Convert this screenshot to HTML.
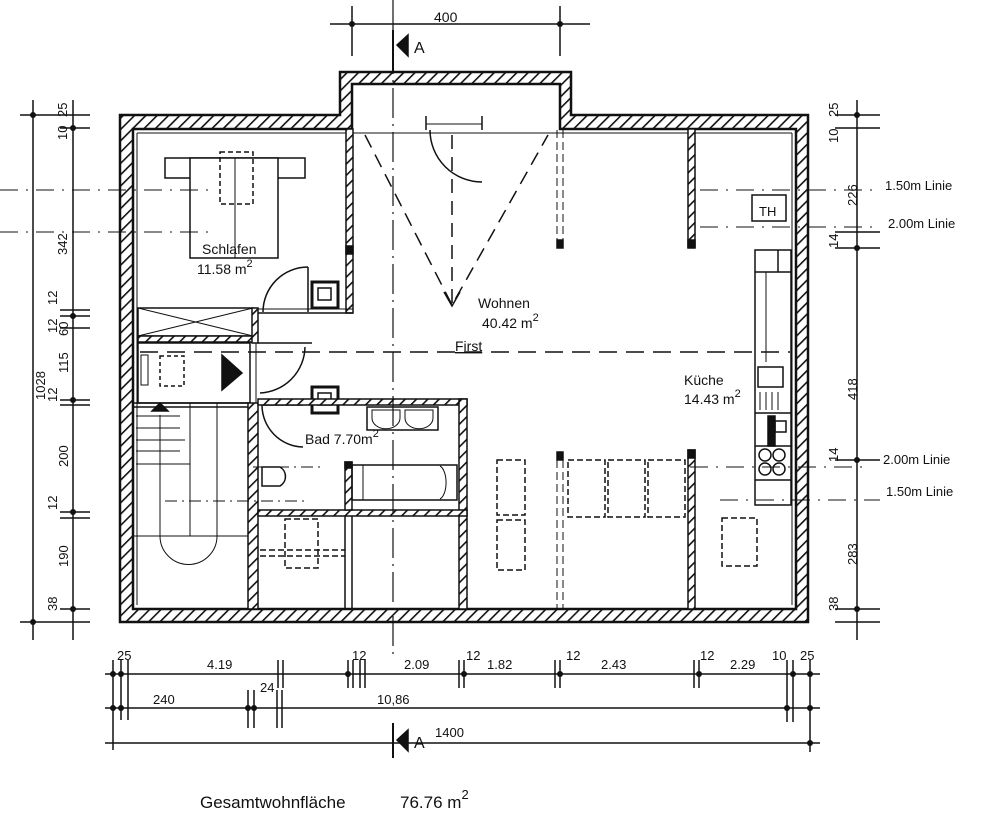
<!DOCTYPE html>
<html><head><meta charset="utf-8"><style>
html,body{margin:0;padding:0;background:#fff;}
svg{display:block;}
text{font-family:"Liberation Sans",sans-serif;fill:#111;}
</style></head><body>
<svg width="1000" height="832" viewBox="0 0 1000 832" xmlns="http://www.w3.org/2000/svg">
<defs>
<pattern id="h" width="8" height="8" patternUnits="userSpaceOnUse" patternTransform="rotate(45)">
<rect width="8" height="8" fill="#fff"/><rect x="0" y="0" width="1.6" height="8" fill="#111"/>
</pattern>
</defs>
<g stroke="#111" fill="none" stroke-width="1.5">
<path d="M120,115 H340 V72 H571 V115 H808 V622 H120 Z M133,129 V609 H796 V129 H560 V84 H352 V129 Z" fill="url(#h)" fill-rule="evenodd" stroke-width="2.5"/>
<rect x="426" y="114" width="56" height="17" fill="#fff" stroke="none"/>
<line x1="426" y1="116" x2="426" y2="130"/><line x1="482" y1="116" x2="482" y2="130"/>
<line x1="426" y1="124" x2="482" y2="124" stroke-width="1"/>
<line x1="137" y1="133" x2="792" y2="133" stroke-width="1"/>
<line x1="137" y1="133" x2="137" y2="605" stroke-width="1"/>
<line x1="792" y1="133" x2="792" y2="605" stroke-width="1"/>
<rect x="346" y="129" width="7" height="184" fill="url(#h)"/>
<rect x="346" y="246" width="7" height="8" fill="#111"/>
<line x1="258" y1="313" x2="353" y2="313"/>
<line x1="258" y1="309" x2="353" y2="309" stroke-width="1"/>
<rect x="138" y="308" width="115" height="28"/>
<path d="M138,308 L253,336 M253,308 L138,336" stroke-width="1"/>
<rect x="138" y="336" width="116" height="6" fill="url(#h)"/>
<rect x="252" y="308" width="6" height="35" fill="url(#h)"/>
<line x1="250" y1="343" x2="250" y2="403" stroke-width="1"/>
<line x1="256" y1="343" x2="256" y2="403" stroke-width="1"/>
<rect x="165" y="158" width="140" height="20" fill="#fff"/>
<rect x="190" y="158" width="88" height="100" fill="#fff"/>
<rect x="220" y="152" width="33" height="52" stroke-dasharray="5,3"/>
<line x1="235" y1="158" x2="235" y2="258" stroke-width="1"/>
<rect x="312" y="282" width="26" height="26" stroke-width="3"/>
<rect x="318" y="288" width="13" height="12"/>
<rect x="312" y="387" width="26" height="26" stroke-width="3"/>
<rect x="318" y="393" width="13" height="12"/>
<path d="M263,312 A45,45 0 0 1 308,267 M308,267 V312"/>
<path d="M258,343 H312 M305,347 A47,47 0 0 1 260,393"/>
<path d="M262,405 A42,42 0 0 0 303,447 M262,405 H303"/>
<path d="M430,130 A52,52 0 0 0 482,182"/>
<rect x="138" y="343" width="112" height="60"/>
<rect x="141" y="355" width="7" height="30" stroke-width="1"/>
<rect x="160" y="356" width="24" height="30" stroke-dasharray="4,3"/>
<polygon points="222,355 242,373 222,390" fill="#111"/>
<rect x="133" y="403" width="116" height="4"/>
<line x1="133" y1="536" x2="248" y2="536" stroke-width="1"/>
<line x1="190" y1="403" x2="190" y2="536" stroke-width="1"/>
<line x1="217" y1="403" x2="217" y2="536" stroke-width="1"/>
<path d="M160,415 V536 A28,28 0 0 0 217,536" stroke-width="1"/>
<polygon points="152,411 168,411 160,403" fill="#111"/>
<path d="M136,416 H180 M136,428 H180 M136,440 H185 M136,451 H180 M136,464 H190" stroke-width="1"/>
<rect x="248" y="403" width="10" height="206" fill="url(#h)"/>
<rect x="258" y="399" width="209" height="6" fill="url(#h)"/>
<rect x="459" y="399" width="8" height="210" fill="url(#h)"/>
<rect x="258" y="510" width="209" height="6" fill="url(#h)"/>
<rect x="345" y="462" width="7" height="48" fill="url(#h)"/>
<rect x="345" y="462" width="7" height="6" fill="#111"/>
<rect x="367" y="407" width="71" height="23"/>
<path d="M372,410 V418 A13,10 0 0 0 400,418 V410 Z M405,410 V418 A13,10 0 0 0 433,418 V410 Z" stroke-width="1"/>
<rect x="352" y="465" width="105" height="35"/>
<path d="M363,465 V500 M440,466 A8,17 0 0 1 440,499" stroke-width="1"/>
<path d="M262,467 H280 A11,11 0 0 1 280,486 H262 Z"/>
<line x1="253" y1="467" x2="320" y2="467" stroke-dasharray="12,5,2,5" stroke-width="1"/>
<line x1="165" y1="501" x2="305" y2="501" stroke-dasharray="12,5,2,5" stroke-width="1"/>
<line x1="345" y1="516" x2="345" y2="609"/><line x1="352" y1="516" x2="352" y2="609"/>
<rect x="285" y="519" width="33" height="49" stroke-dasharray="6,3"/>
<line x1="260" y1="550" x2="345" y2="550" stroke-dasharray="6,3"/>
<line x1="260" y1="556" x2="345" y2="556" stroke-dasharray="6,3"/>
<rect x="688" y="129" width="7" height="118" fill="url(#h)"/><rect x="688" y="240" width="7" height="8" fill="#111"/>
<rect x="688" y="450" width="7" height="159" fill="url(#h)"/><rect x="688" y="450" width="7" height="8" fill="#111"/>
<path d="M557,130 V245 M563,130 V245 M557,460 V609 M563,460 V609" stroke-dasharray="8,4" stroke-width="1"/>
<rect x="557" y="240" width="6" height="8" fill="#111"/><rect x="557" y="452" width="6" height="8" fill="#111"/>
<g stroke-dasharray="6,3">
<rect x="497" y="460" width="28" height="55"/><rect x="497" y="520" width="28" height="50"/>
<rect x="568" y="460" width="37" height="57"/><rect x="608" y="460" width="37" height="57"/><rect x="648" y="460" width="37" height="57"/>
<rect x="722" y="518" width="35" height="48"/>
</g>
<rect x="755" y="250" width="36" height="255" fill="#fff"/>
<line x1="755" y1="272" x2="791" y2="272"/><line x1="778" y1="250" x2="778" y2="272"/>
<line x1="766" y1="272" x2="766" y2="362" stroke-width="1"/>
<rect x="758" y="367" width="25" height="20"/>
<path d="M760,392 V410 M766,392 V410 M772,392 V410 M778,392 V410" stroke-width="1"/>
<line x1="755" y1="413" x2="791" y2="413"/>
<rect x="768" y="416" width="7" height="30" fill="#111"/><rect x="775" y="421" width="11" height="11"/>
<line x1="755" y1="446" x2="791" y2="446"/>
<circle cx="765" cy="455" r="6"/><circle cx="779" cy="455" r="6"/><circle cx="765" cy="469" r="6"/><circle cx="779" cy="469" r="6"/>
<line x1="755" y1="480" x2="791" y2="480"/>
<rect x="752" y="195" width="34" height="26"/>
<path d="M365,135 L452,305 L548,135" stroke-dasharray="14,8"/>
<line x1="452" y1="135" x2="452" y2="305" stroke-dasharray="14,8"/>
<path d="M444,292 L452,306 L460,292"/>
<line x1="140" y1="352" x2="790" y2="352" stroke-dasharray="18,9"/>
<g stroke-dasharray="18,8,2,8" stroke-width="1">
<line x1="0" y1="190" x2="215" y2="190"/><line x1="0" y1="232" x2="215" y2="232"/>
<line x1="700" y1="190" x2="880" y2="190"/><line x1="700" y1="227" x2="880" y2="227"/>
<line x1="690" y1="467" x2="870" y2="467"/><line x1="720" y1="500" x2="880" y2="500"/>
</g>
<line x1="393" y1="0" x2="393" y2="660" stroke-dasharray="30,6,2,6" stroke-width="1.2"/>
<line x1="393" y1="30" x2="393" y2="72" stroke-width="2"/>
<polygon points="397,45 408,35 408,56" fill="#111"/>
<line x1="393" y1="723" x2="393" y2="758" stroke-width="2"/>
<polygon points="397,740 408,730 408,751" fill="#111"/>
<line x1="330" y1="24" x2="590" y2="24"/>
<path d="M352,6 V56 M560,6 V56"/>
<line x1="33" y1="100" x2="33" y2="640"/>
<line x1="20" y1="115" x2="90" y2="115"/><line x1="20" y1="622" x2="90" y2="622"/>
<line x1="73" y1="100" x2="73" y2="640"/>
<path d="M60,128 H90 M60,310 H90 M60,316 H90 M60,328 H90 M60,400 H90 M60,405 H90 M60,512 H90 M60,518 H90 M60,609 H90"/>
<line x1="857" y1="100" x2="857" y2="640"/>
<path d="M835,115 H880 M835,128 H880 M835,232 H880 M835,248 H880 M835,460 H880 M835,609 H880 M835,622 H880"/>
<line x1="105" y1="674" x2="820" y2="674"/>
<line x1="105" y1="708" x2="820" y2="708"/>
<line x1="105" y1="743" x2="820" y2="743"/>
<path d="M113,660 V750 M121,660 V720 M277,690 V728 M282,690 V728 M278,660 V688 M283,660 V688 M360,660 V688 M365,660 V688 M459,660 V688 M464,660 V688 M555,660 V688 M560,660 V688 M694,660 V688 M699,660 V688 M787,660 V722 M793,660 V722 M810,660 V752 M128,660 V720 M248,690 V728 M254,690 V728 M348,660 V688 M353,660 V688"/>
</g>
<g fill="#111">
<circle cx="352" cy="24" r="3"/><circle cx="560" cy="24" r="3"/>
<circle cx="33" cy="115" r="3"/><circle cx="33" cy="622" r="3"/>
<circle cx="73" cy="128" r="3"/><circle cx="73" cy="316" r="3"/><circle cx="73" cy="400" r="3"/><circle cx="73" cy="512" r="3"/><circle cx="73" cy="609" r="3"/>
<circle cx="857" cy="115" r="3"/><circle cx="857" cy="248" r="3"/><circle cx="857" cy="460" r="3"/><circle cx="857" cy="609" r="3"/>
<circle cx="113" cy="674" r="3"/><circle cx="121" cy="674" r="3"/><circle cx="348" cy="674" r="3"/><circle cx="464" cy="674" r="3"/><circle cx="560" cy="674" r="3"/><circle cx="699" cy="674" r="3"/><circle cx="793" cy="674" r="3"/><circle cx="810" cy="674" r="3"/>
<circle cx="113" cy="708" r="3"/><circle cx="121" cy="708" r="3"/><circle cx="248" cy="708" r="3"/><circle cx="254" cy="708" r="3"/><circle cx="787" cy="708" r="3"/><circle cx="810" cy="708" r="3"/><circle cx="810" cy="743" r="3"/>
</g>
<g font-size="14">
<text x="434" y="22">400</text>
<text x="414" y="53" font-size="16">A</text>
<text x="414" y="748" font-size="16">A</text>
<text x="202" y="254">Schlafen</text>
<text x="197" y="274">11.58 m<tspan font-size="11" dy="-7">2</tspan></text>
<text x="478" y="308">Wohnen</text>
<text x="482" y="328">40.42 m<tspan font-size="11" dy="-7">2</tspan></text>
<text x="455" y="351" text-decoration="underline">First</text>
<text x="684" y="385">Küche</text>
<text x="684" y="404">14.43 m<tspan font-size="11" dy="-7">2</tspan></text>
<text x="305" y="444">Bad 7.70m<tspan font-size="11" dy="-7">2</tspan></text>
<text x="759" y="216" font-size="13">TH</text>
<text x="885" y="190" font-size="13">1.50m Linie</text>
<text x="888" y="228" font-size="13">2.00m Linie</text>
<text x="883" y="464" font-size="13">2.00m Linie</text>
<text x="886" y="496" font-size="13">1.50m Linie</text>
<text x="200" y="808" font-size="17">Gesamtwohnfläche</text>
<text x="400" y="808" font-size="17">76.76 m<tspan font-size="13" dy="-9">2</tspan></text>
<g font-size="13">
<text x="117" y="660">25</text><text x="207" y="669">4.19</text><text x="352" y="660">12</text><text x="404" y="669">2.09</text><text x="466" y="660">12</text><text x="487" y="669">1.82</text><text x="566" y="660">12</text><text x="601" y="669">2.43</text><text x="700" y="660">12</text><text x="730" y="669">2.29</text><text x="772" y="660">10</text><text x="800" y="660">25</text>
<text x="153" y="704">240</text><text x="260" y="692">24</text><text x="377" y="704">10,86</text><text x="435" y="737">1400</text>
</g>
<g font-size="13">
<text transform="translate(45,400) rotate(-90)">1028</text>
<text transform="translate(67,140) rotate(-90)">10</text><text transform="translate(67,117) rotate(-90)">25</text>
<text transform="translate(67,255) rotate(-90)">342</text>
<text transform="translate(57,305) rotate(-90)">12</text><text transform="translate(57,333) rotate(-90)">12</text><text transform="translate(68,336) rotate(-90)">60</text>
<text transform="translate(68,373) rotate(-90)">115</text><text transform="translate(57,402) rotate(-90)">12</text>
<text transform="translate(68,467) rotate(-90)">200</text><text transform="translate(57,510) rotate(-90)">12</text>
<text transform="translate(68,567) rotate(-90)">190</text><text transform="translate(57,611) rotate(-90)">38</text>
<text transform="translate(838,143) rotate(-90)">10</text><text transform="translate(838,117) rotate(-90)">25</text>
<text transform="translate(857,206) rotate(-90)">226</text><text transform="translate(838,248) rotate(-90)">14</text>
<text transform="translate(857,400) rotate(-90)">418</text><text transform="translate(838,462) rotate(-90)">14</text>
<text transform="translate(857,565) rotate(-90)">283</text><text transform="translate(838,611) rotate(-90)">38</text>
</g>
</g>
</svg>
</body></html>
